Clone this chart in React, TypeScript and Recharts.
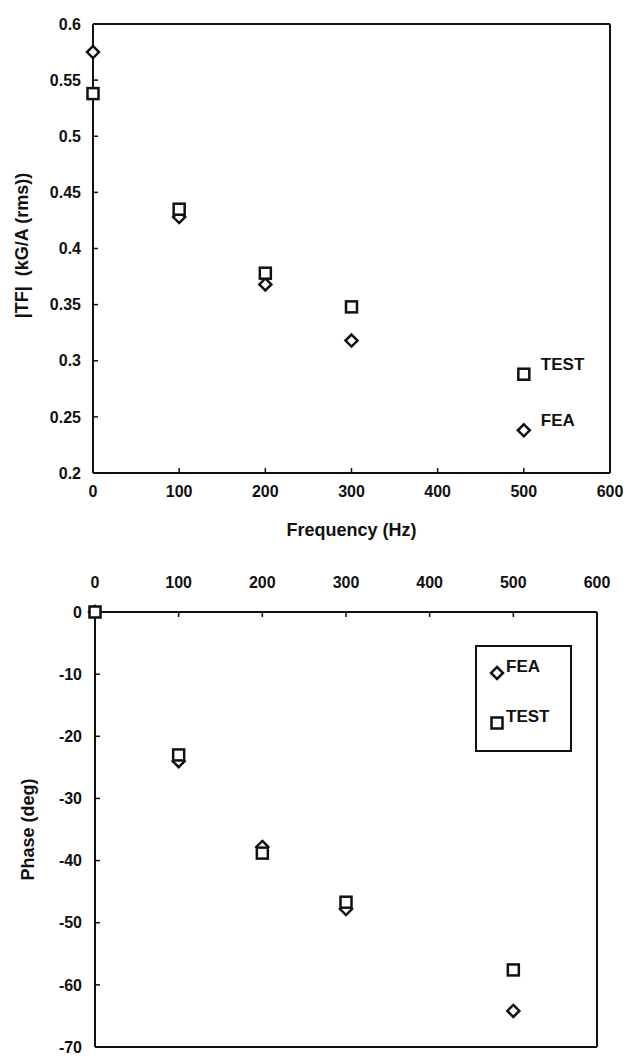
import { ScatterChart, Scatter, XAxis, YAxis, ReferenceLine, LabelList, Legend } from 'recharts'

// ── data ──────────────────────────────────────────────────────────────────
const freq = [0, 100, 200, 300, 500]
const magFea = [0.575, 0.428, 0.368, 0.318, 0.238]
const magTest = [0.538, 0.435, 0.378, 0.348, 0.288]
const phaseFea = [0, -24, -37.8, -47.8, -64.2]
const phaseTest = [0, -23, -38.8, -46.7, -57.6]

const freqTicks = [0, 100, 200, 300, 400, 500, 600]
const magTicks = [0.2, 0.25, 0.3, 0.35, 0.4, 0.45, 0.5, 0.55, 0.6]
const phaseTicks = [-70, -60, -50, -40, -30, -20, -10, 0]

const FONT = '"Liberation Sans", Arial, Helvetica, sans-serif'
const INK = '#111'

const toPoints = (vals: number[]) => freq.map((f, i) => ({ f, v: vals[i] }))

const tickStyle = { fill: INK, fontSize: 16, fontWeight: 'bold', fontFamily: FONT }
const titleStyle = { fill: INK, fontSize: 18, fontWeight: 'bold', fontFamily: FONT }
const axisLine = { stroke: INK, strokeWidth: 2 }
const tickLine = { stroke: INK, strokeWidth: 1.5 }

// ── markers ───────────────────────────────────────────────────────────────
function Diamond({ cx, cy }: { cx?: number; cy?: number }) {
  if (cx == null || cy == null) return null
  const r = 6
  return (
    <path
      d={`M${cx},${cy - r}L${cx + r},${cy}L${cx},${cy + r}L${cx - r},${cy}Z`}
      fill="#fff"
      stroke={INK}
      strokeWidth={2.5}
    />
  )
}

function Square({ cx, cy }: { cx?: number; cy?: number }) {
  if (cx == null || cy == null) return null
  const r = 5.5
  return <rect x={cx - r} y={cy - r} width={2 * r} height={2 * r} fill="#fff" stroke={INK} strokeWidth={2.5} />
}

// ── rotated axis title ────────────────────────────────────────────────────
function AxisTitle({ viewBox, value, dx = 0, dy = 0 }: any) {
  const x = viewBox.x + dx
  const y = viewBox.y + viewBox.height / 2 + dy
  return (
    <text
      x={x}
      y={y}
      transform={`rotate(-90 ${x} ${y})`}
      textAnchor="middle"
      dominantBaseline="central"
      style={titleStyle}
    >
      {value}
    </text>
  )
}

// name next to the last point of a series
function EndName(name: string, last: number) {
  return (props: any) => {
    if (props.index !== last) return null
    const vb = props.viewBox ?? props
    const cx = vb.x + vb.width / 2
    const cy = vb.y + vb.height / 2
    return (
      <text x={cx + 17} y={cy - 10} dominantBaseline="central" style={{ ...titleStyle, fontSize: 17 }}>
        {name}
      </text>
    )
  }
}

// ── legend box of the phase plot ──────────────────────────────────────────
function PhaseLegend() {
  const rows = [
    { name: 'FEA', marker: <Diamond cx={8} cy={8} /> },
    { name: 'TEST', marker: <Square cx={8} cy={8} /> },
  ]
  return (
    <div
      style={{
        position: 'relative',
        width: 97,
        height: 107,
        border: `2px solid ${INK}`,
        boxSizing: 'border-box',
        background: '#fff',
        fontFamily: FONT,
        fontWeight: 'bold',
        fontSize: 17,
        color: INK,
      }}
    >
      {rows.map((r, i) => (
        <div key={r.name} style={{ position: 'absolute', left: 12, top: 18 + i * 50 }}>
          <svg width={16} height={16} style={{ position: 'absolute', left: 0, top: 0 }}>
            {r.marker}
          </svg>
          <span style={{ position: 'absolute', left: 17, top: -8, lineHeight: '20px' }}>{r.name}</span>
        </div>
      ))}
    </div>
  )
}

export default function App() {
  const last = freq.length - 1
  return (
    <div style={{ position: 'absolute', left: 0, top: 0, width: 628, height: 1056, background: '#fff' }}>
      {/* magnitude */}
      <div style={{ position: 'absolute', left: 0, top: 0 }}>
        <ScatterChart width={628} height={540} margin={{ top: 24, right: 18, left: 0, bottom: 0 }}>
          <XAxis
            type="number"
            dataKey="f"
            domain={[0, 600]}
            ticks={freqTicks}
            interval={0}
            height={67}
            tick={tickStyle}
            axisLine={axisLine}
            tickLine={tickLine}
            tickSize={-5}
            tickMargin={18}
            label={{ value: 'Frequency (Hz)', position: 'insideBottom', offset: 4, style: titleStyle }}
          />
          <YAxis
            type="number"
            dataKey="v"
            domain={[0.2, 0.6]}
            ticks={magTicks}
            interval={0}
            width={93}
            tick={tickStyle}
            axisLine={axisLine}
            tickLine={tickLine}
            tickSize={-5}
            tickMargin={17}
            label={<AxisTitle value={'|TF|\u00a0 (kG/A (rms))'} dx={22} dy={-3} />}
          />
          <ReferenceLine x={600} stroke={INK} strokeWidth={2} />
          <ReferenceLine y={0.6} stroke={INK} strokeWidth={2} />
          <Scatter name="FEA" data={toPoints(magFea)} shape={<Diamond />} isAnimationActive={false}>
            <LabelList dataKey="v" content={EndName('FEA', last)} />
          </Scatter>
          <Scatter name="TEST" data={toPoints(magTest)} shape={<Square />} isAnimationActive={false}>
            <LabelList dataKey="v" content={EndName('TEST', last)} />
          </Scatter>
        </ScatterChart>
      </div>

      {/* phase */}
      <div style={{ position: 'absolute', left: 0, top: 540 }}>
        <ScatterChart width={628} height={516} margin={{ top: 32, right: 31, left: 0, bottom: 9 }}>
          <XAxis
            type="number"
            dataKey="f"
            orientation="top"
            domain={[0, 600]}
            ticks={freqTicks}
            interval={0}
            height={40}
            tick={tickStyle}
            axisLine={axisLine}
            tickLine={tickLine}
            tickSize={-5}
            tickMargin={29}
          />
          <YAxis
            type="number"
            dataKey="v"
            domain={[-70, 0]}
            ticks={phaseTicks}
            interval={0}
            width={95}
            tick={tickStyle}
            axisLine={axisLine}
            tickLine={tickLine}
            tickSize={-5}
            tickMargin={18}
            label={<AxisTitle value="Phase (deg)" dx={28} dy={0} />}
          />
          <ReferenceLine x={600} stroke={INK} strokeWidth={2} />
          <ReferenceLine y={-70} stroke={INK} strokeWidth={2} />
          <Legend
            layout="vertical"
            align="center"
            verticalAlign="middle"
            wrapperStyle={{ left: 475, top: 105 }}
            content={<PhaseLegend />}
          />
          <Scatter name="FEA" data={toPoints(phaseFea)} shape={<Diamond />} isAnimationActive={false} />
          <Scatter name="TEST" data={toPoints(phaseTest)} shape={<Square />} isAnimationActive={false} />
        </ScatterChart>
      </div>
    </div>
  )
}
